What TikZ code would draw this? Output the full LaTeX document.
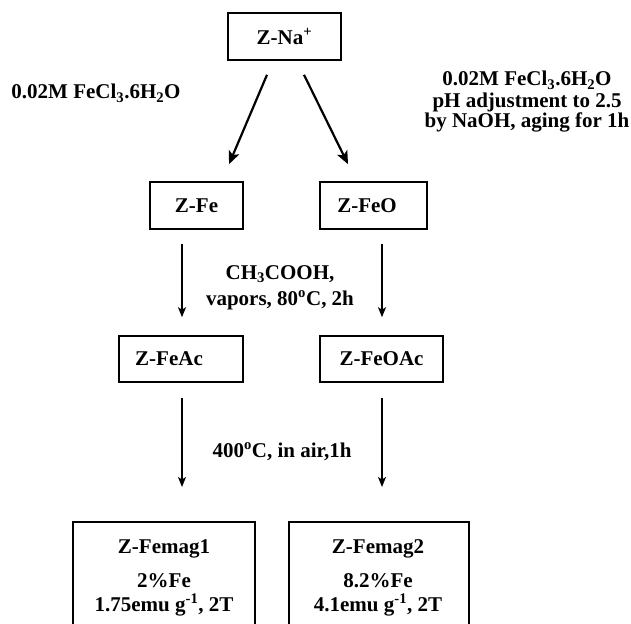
\documentclass[tikz,border=0pt]{standalone}
\usepackage{fontspec}
\setmainfont{Liberation Serif}
\usetikzlibrary{arrows.meta}
\begin{document}
\begin{tikzpicture}[x=1pt,y=-1pt,
  every node/.style={font=\fontsize{21}{21.5}\selectfont\bfseries},
  box/.style={draw,line width=1.6pt,inner sep=0pt},
  lab/.style={align=center,inner sep=0pt,anchor=base},
  arrA/.style={line width=2.2pt,-{Stealth[length=13pt,width=11pt,inset=3pt]}},
  arrB/.style={line width=1.4pt,-{Stealth[length=10pt,width=8pt,inset=2.5pt]}}]
\useasboundingbox (0,0) rectangle (631,623);
\clip (0,0) rectangle (631,623);
% boxes
\node[box,minimum width=113pt,minimum height=47pt] (Na) at (284.5,36.5) {Z-Na\textsuperscript{+}};
\node[box,minimum width=93pt,minimum height=47pt] (Fe) at (196.5,205.5) {Z-Fe};
\node[box,minimum width=107pt,minimum height=47pt] (FeO) at (373.5,205.5) {Z-FeO\kern13pt};
\node[box,minimum width=124pt,minimum height=46pt] (FeAc) at (181,359) {Z-FeAc\kern24pt};
\node[box,minimum width=123pt,minimum height=46pt] (FeOAc) at (381.5,359) {Z-FeOAc};
\node[box,minimum width=182pt,minimum height=120pt,anchor=north] (M1) at (164,521) {};
\node[box,minimum width=180pt,minimum height=120pt,anchor=north] (M2) at (379,521) {};
% box texts
\node[lab] (m1a) at (164,553) {Z-Femag1};
\node[lab] (m1b) at (164,587) {2\%Fe};
\node[lab] (m1c) at (164,611) {1.75emu g\textsuperscript{-1}, 2T};
\node[lab] (m2a) at (378,553) {Z-Femag2};
\node[lab] (m2b) at (378,587) {8.2\%Fe};
\node[lab] (m2c) at (378,611) {4.1emu g\textsuperscript{-1}, 2T};
% labels
\node[lab] (l1) at (96,99) {0.02M FeCl\textsubscript{3}.6H\textsubscript{2}O};
\node[lab] (l2) at (527,86) {0.02M FeCl\textsubscript{3}.6H\textsubscript{2}O};
\node[lab] (l3) at (527,107) {pH adjustment to 2.5};
\node[lab] (l4) at (527,128) {by NaOH, aging for 1h};
\node[lab] (l5) at (280,279) {CH\textsubscript{3}COOH,};
\node[lab] (l6) at (280,305) {vapors, 80\textsuperscript{o}C, 2h};
\node[lab] (l7) at (282,457) {400\textsuperscript{o}C, in air,1h};
% arrows
\draw[arrA] ([xshift=-17.5pt,yshift=-14pt]Na.south) -- ([xshift=32.5pt,yshift=17pt]Fe.north);
\draw[arrA] ([xshift=19.5pt,yshift=-14pt]Na.south) -- ([xshift=-25.5pt,yshift=17pt]FeO.north);
\draw[arrB] ([xshift=-14.5pt,yshift=-14pt]Fe.south) -- ([xshift=1pt,yshift=18pt]FeAc.north);
\draw[arrB] ([xshift=8.5pt,yshift=-14pt]FeO.south) -- ([xshift=0.5pt,yshift=18pt]FeOAc.north);
\draw[arrB] ([xshift=1pt,yshift=-15pt]FeAc.south) -- ([xshift=18pt,yshift=34pt]M1.north);
\draw[arrB] ([xshift=0.5pt,yshift=-15pt]FeOAc.south) -- ([xshift=3pt,yshift=34pt]M2.north);
\end{tikzpicture}
\end{document}
